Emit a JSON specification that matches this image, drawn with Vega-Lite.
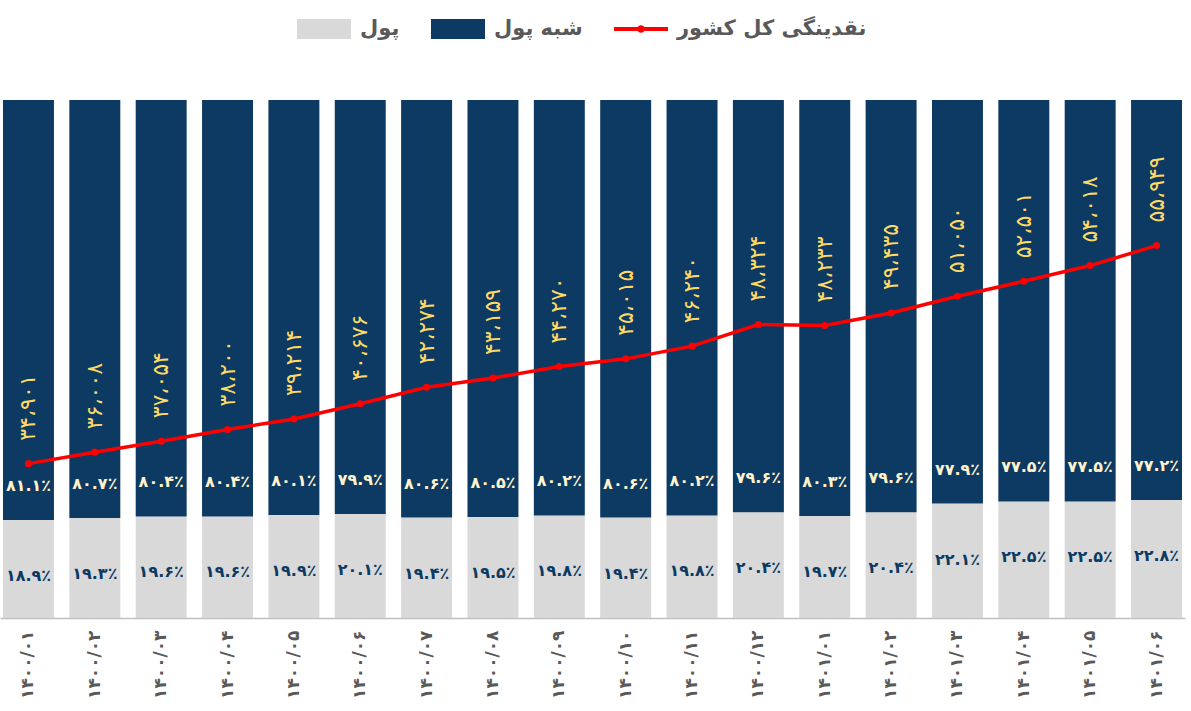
{
  "$schema": "https://vega.github.io/schema/vega-lite/v6.json",
  "width": 1185,
  "height": 518,
  "autosize": {"type": "none"},
  "padding": {"top": 100, "left": 0, "right": 6, "bottom": 93},
  "background": "#ffffff",
  "config": {
    "font": "DejaVu Sans",
    "view": {"stroke": null}
  },
  "data": {
    "values": [
      {"month": "۱۴۰۰/۰۱", "money": 0.189, "quasi": 0.811, "liq": 34901, "moneyText": "۱۸.۹٪", "quasiText": "۸۱.۱٪", "liqText": "۳۴،۹۰۱"},
      {"month": "۱۴۰۰/۰۲", "money": 0.193, "quasi": 0.807, "liq": 36008, "moneyText": "۱۹.۳٪", "quasiText": "۸۰.۷٪", "liqText": "۳۶،۰۰۸"},
      {"month": "۱۴۰۰/۰۳", "money": 0.196, "quasi": 0.804, "liq": 37054, "moneyText": "۱۹.۶٪", "quasiText": "۸۰.۴٪", "liqText": "۳۷،۰۵۴"},
      {"month": "۱۴۰۰/۰۴", "money": 0.196, "quasi": 0.804, "liq": 38200, "moneyText": "۱۹.۶٪", "quasiText": "۸۰.۴٪", "liqText": "۳۸،۲۰۰"},
      {"month": "۱۴۰۰/۰۵", "money": 0.199, "quasi": 0.801, "liq": 39214, "moneyText": "۱۹.۹٪", "quasiText": "۸۰.۱٪", "liqText": "۳۹،۲۱۴"},
      {"month": "۱۴۰۰/۰۶", "money": 0.201, "quasi": 0.799, "liq": 40676, "moneyText": "۲۰.۱٪", "quasiText": "۷۹.۹٪", "liqText": "۴۰،۶۷۶"},
      {"month": "۱۴۰۰/۰۷", "money": 0.194, "quasi": 0.806, "liq": 42274, "moneyText": "۱۹.۴٪", "quasiText": "۸۰.۶٪", "liqText": "۴۲،۲۷۴"},
      {"month": "۱۴۰۰/۰۸", "money": 0.195, "quasi": 0.805, "liq": 43159, "moneyText": "۱۹.۵٪", "quasiText": "۸۰.۵٪", "liqText": "۴۳،۱۵۹"},
      {"month": "۱۴۰۰/۰۹", "money": 0.198, "quasi": 0.802, "liq": 44270, "moneyText": "۱۹.۸٪", "quasiText": "۸۰.۲٪", "liqText": "۴۴،۲۷۰"},
      {"month": "۱۴۰۰/۱۰", "money": 0.194, "quasi": 0.806, "liq": 45015, "moneyText": "۱۹.۴٪", "quasiText": "۸۰.۶٪", "liqText": "۴۵،۰۱۵"},
      {"month": "۱۴۰۰/۱۱", "money": 0.198, "quasi": 0.802, "liq": 46240, "moneyText": "۱۹.۸٪", "quasiText": "۸۰.۲٪", "liqText": "۴۶،۲۴۰"},
      {"month": "۱۴۰۰/۱۲", "money": 0.204, "quasi": 0.796, "liq": 48324, "moneyText": "۲۰.۴٪", "quasiText": "۷۹.۶٪", "liqText": "۴۸،۳۲۴"},
      {"month": "۱۴۰۱/۰۱", "money": 0.197, "quasi": 0.803, "liq": 48233, "moneyText": "۱۹.۷٪", "quasiText": "۸۰.۳٪", "liqText": "۴۸،۲۳۳"},
      {"month": "۱۴۰۱/۰۲", "money": 0.204, "quasi": 0.796, "liq": 49435, "moneyText": "۲۰.۴٪", "quasiText": "۷۹.۶٪", "liqText": "۴۹،۴۳۵"},
      {"month": "۱۴۰۱/۰۳", "money": 0.221, "quasi": 0.779, "liq": 51050, "moneyText": "۲۲.۱٪", "quasiText": "۷۷.۹٪", "liqText": "۵۱،۰۵۰"},
      {"month": "۱۴۰۱/۰۴", "money": 0.225, "quasi": 0.775, "liq": 52501, "moneyText": "۲۲.۵٪", "quasiText": "۷۷.۵٪", "liqText": "۵۲،۵۰۱"},
      {"month": "۱۴۰۱/۰۵", "money": 0.225, "quasi": 0.775, "liq": 54018, "moneyText": "۲۲.۵٪", "quasiText": "۷۷.۵٪", "liqText": "۵۴،۰۱۸"},
      {"month": "۱۴۰۱/۰۶", "money": 0.228, "quasi": 0.772, "liq": 55949, "moneyText": "۲۲.۸٪", "quasiText": "۷۷.۲٪", "liqText": "۵۵،۹۴۹"}
    ]
  },
  "layer": [
    {
      "transform": [{"fold": ["money", "quasi"], "as": ["series", "share"]}],
      "mark": {"type": "bar"},
      "encoding": {
        "x": {
          "field": "month",
          "type": "nominal",
          "sort": null,
          "scale": {"paddingInner": 0.232, "paddingOuter": 0.045},
          "axis": {
            "title": null,
            "labelAngle": 270,
            "labelFont": "DejaVu Sans",
            "labelFontSize": 17,
            "labelFontWeight": "bold",
            "labelColor": "#595959",
            "labelPadding": 12,
            "labelOverlap": false,
            "ticks": false,
            "domain": true,
            "domainColor": "#BFBFBF",
            "domainWidth": 1.5
          }
        },
        "y": {
          "field": "share",
          "type": "quantitative",
          "stack": "zero",
          "scale": {"domain": [0, 1], "nice": false},
          "axis": null
        },
        "color": {
          "field": "series",
          "type": "nominal",
          "scale": {
            "domain": ["money", "quasi", "liquidity"],
            "range": ["#D9D9D9", "#0C3A62", "#FF0000"]
          },
          "legend": {
            "orient": "none",
            "legendX": 296,
            "legendY": -99,
            "direction": "horizontal",
            "title": null,
            "padding": 0,
            "symbolType": "M-1,-0.37H1V0.37H-1Z",
            "symbolSize": 2916,
            "labelExpr": "datum.value == 'money' ? 'پول' : datum.value == 'quasi' ? 'شبه پول' : 'نقدینگی کل کشور'",
            "labelFont": "DejaVu Sans",
            "labelFontSize": 21,
            "labelFontWeight": "bold",
            "labelColor": "#595959",
            "labelLimit": 500,
            "labelOffset": 8,
            "columnPadding": 30,
            "encode": {
              "symbols": {
                "update": {
                  "shape": {"signal": "datum.value == 'liquidity' ? 'M-1,-0.07H1V0.07H-1Z M0.14,0A0.14,0.14 0 1 1 -0.14,0A0.14,0.14 0 1 1 0.14,0Z' : 'M-1,-0.37H1V0.37H-1Z'"}
                }
              }
            }
          }
        },
        "order": {"field": "series", "type": "nominal", "sort": "ascending"}
      }
    },
    {
      "mark": {"type": "text", "fontSize": 16, "fontWeight": "bold", "color": "#0C3A62", "baseline": "middle", "dy": 56},
      "encoding": {
        "x": {"field": "month", "type": "nominal", "sort": null},
        "y": {"field": "money", "type": "quantitative", "scale": {"domain": [0, 1], "nice": false}, "axis": null},
        "text": {"field": "moneyText", "type": "nominal"}
      }
    },
    {
      "mark": {"type": "text", "fontSize": 16, "fontWeight": "bold", "color": "#FFF2CC", "baseline": "middle", "dy": -34},
      "encoding": {
        "x": {"field": "month", "type": "nominal", "sort": null},
        "y": {"field": "money", "type": "quantitative", "scale": {"domain": [0, 1], "nice": false}, "axis": null},
        "text": {"field": "quasiText", "type": "nominal"}
      }
    },
    {
      "mark": {"type": "line", "color": "#FF0000", "strokeWidth": 3.5},
      "encoding": {
        "x": {"field": "month", "type": "nominal", "sort": null},
        "y": {"field": "liq", "type": "quantitative", "scale": {"domain": [20000, 70000], "nice": false, "zero": false}, "axis": null}
      }
    },
    {
      "mark": {"type": "point", "filled": true, "color": "#FF0000", "size": 50, "opacity": 1},
      "encoding": {
        "x": {"field": "month", "type": "nominal", "sort": null},
        "y": {"field": "liq", "type": "quantitative", "scale": {"domain": [20000, 70000], "nice": false, "zero": false}, "axis": null}
      }
    },
    {
      "mark": {"type": "text", "angle": 270, "align": "left", "baseline": "middle", "dx": 23, "fontSize": 22, "fontWeight": "normal", "color": "#FFD966"},
      "encoding": {
        "x": {"field": "month", "type": "nominal", "sort": null},
        "y": {"field": "liq", "type": "quantitative", "scale": {"domain": [20000, 70000], "nice": false, "zero": false}, "axis": null},
        "text": {"field": "liqText", "type": "nominal"}
      }
    }
  ],
  "resolve": {"scale": {"y": "independent"}}
}
